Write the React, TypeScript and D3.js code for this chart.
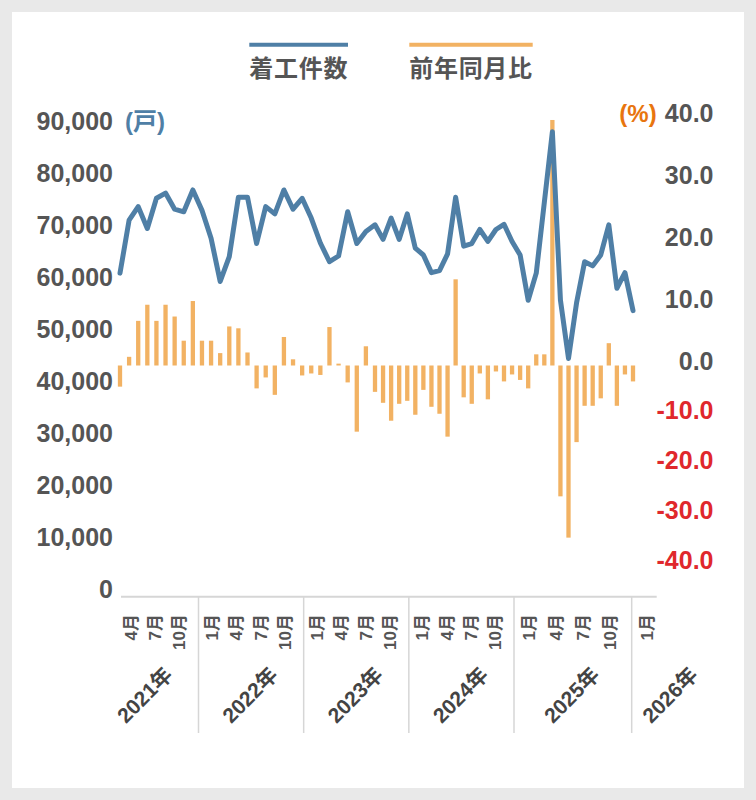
import React from 'react';
import * as d3 from 'd3';

// 着工件数 (戸) — one value per month, Feb 2021 onwards
const housingStarts = [
  61700, 71900, 74500, 70300, 76100, 77100, 74000, 73500, 77700, 73800,
  68400, 60100, 64900, 76300, 76300, 67400, 74500, 73100, 77700, 74000,
  76100, 72300, 67500, 63900, 65000, 73500, 67400, 69700, 71000, 68200,
  72300, 68200, 73100, 66500, 65200, 61800, 62200, 65400, 76300, 66900,
  67400, 70100, 67800, 70100, 71100, 67800, 65200, 56500, 61700, 75300,
  88900, 56500, 45300, 56000, 63900, 63100, 65200, 71000, 58800, 61800,
  54500,
];

// 前年同月比 (%)
const yoyChange = [
  -4.25, 1.4, 7.2, 9.8, 7.2, 9.8, 7.9, 4.0, 10.4, 4.0,
  4.0, 2.0, 6.3, 6.0, 2.1, -4.6, -2.4, -5.9, 4.6, 1.0,
  -2.0, -1.6, -1.9, 6.2, 0.3, -3.4, -13.3, 3.1, -5.3, -7.5,
  -11.1, -7.7, -7.1, -9.9, -4.9, -8.3, -9.7, -14.3, 13.9, -6.4,
  -7.7, -1.6, -6.8, -1.2, -3.2, -1.8, -2.9, -4.6, 1.8, 1.8,
  39.6, -26.3, -34.6, -15.4, -8.1, -8.1, -6.6, 3.6, -8.1, -1.8,
  -3.2,
];

const years = [2021, 2022, 2023, 2024, 2025, 2026];
const quarterMonths = ['1月', '4月', '7月', '10月'];
const monthsByYear: Record<number, string[]> = {
  2021: ['4月', '7月', '10月'],
  2022: quarterMonths,
  2023: quarterMonths,
  2024: quarterMonths,
  2025: quarterMonths,
  2026: ['1月'],
};
const leftTicks = [0, 10000, 20000, 30000, 40000, 50000, 60000, 70000, 80000, 90000];
const rightTicks = [-40, -30, -20, -10, 0, 10, 20, 30, 40];

const W = 756;
const H = 800;
const FONT = '"Liberation Sans", Arial, "Noto Sans CJK JP", sans-serif';
const BLUE = '#4f7fa6';
const ORANGE = '#f2b263';
const GREY_TEXT = '#555555';

export default function App() {
  const x = d3.scaleLinear().domain([0, 28, housingStarts.length - 1]).range([120, 375, 633]);
  const yLeft = d3.scaleLinear().domain([0, 90000]).range([594, 126]);
  const yRight = d3.scaleLinear().domain([-40, 0, 40]).range([564.5, 365.5, 117.5]);

  // category axis: one group per year
  const yearScale = d3.scaleLinear().domain([2021, 2022, 2025, 2026]).range([93, 198.5, 514, 631.7]);
  const monthPos = d3.scalePoint<string>().domain(quarterMonths).range([0.13, 0.82]);
  const axisY = 596.7;

  const line = d3
    .line<number>()
    .x((_, i) => x(i))
    .y(d => yLeft(d));

  const barW = 4.3;
  const fmtLeft = d3.format(',');

  return (
    <svg width={W} height={H} style={{ position: 'absolute', left: 0, top: 0 }} fontFamily={FONT}>
      <rect width={W} height={H} fill="#e9e9e9" />
      <rect x={12} y={12} width={732} height={776} fill="#ffffff" />

      {/* legend */}
      <line x1={249.3} x2={348} y1={44.7} y2={44.7} stroke={BLUE} strokeWidth={4} />
      <text x={298.7} y={77} textAnchor="middle" fontSize={24} fontWeight="bold" fill={GREY_TEXT} letterSpacing={0.7}>
        着工件数
      </text>
      <line x1={409.3} x2={532.7} y1={44.7} y2={44.7} stroke={ORANGE} strokeWidth={4} />
      <text x={471} y={77} textAnchor="middle" fontSize={24} fontWeight="bold" fill={GREY_TEXT} letterSpacing={0.7}>
        前年同月比
      </text>

      {/* left axis */}
      {leftTicks.map(t => (
        <text key={t} x={113} y={yLeft(t) + 4} textAnchor="end" fontSize={25} fontWeight="bold" fill={GREY_TEXT}>
          {fmtLeft(t)}
        </text>
      ))}
      <text x={125} y={yLeft(90000) + 4} fontSize={24} fontWeight="bold" fill={BLUE}>
        (戸)
      </text>

      {/* right axis */}
      {rightTicks.map(t => (
        <text
          key={t}
          x={713.5}
          y={yRight(t) + 4.2}
          textAnchor="end"
          fontSize={25}
          fontWeight="bold"
          fill={t < 0 ? '#e0282c' : GREY_TEXT}
        >
          {t.toFixed(1)}
        </text>
      ))}
      <text x={656.7} y={yRight(40) + 4.2} textAnchor="end" fontSize={24} fontWeight="bold" fill="#e8750f">
        (%)
      </text>

      {/* bars */}
      {yoyChange.map((v, i) => (
        <rect
          key={i}
          x={x(i) - barW / 2}
          y={Math.min(yRight(v), yRight(0))}
          width={barW}
          height={Math.abs(yRight(v) - yRight(0))}
          fill={ORANGE}
        />
      ))}

      {/* line */}
      <path
        d={line(housingStarts) ?? ''}
        fill="none"
        stroke={BLUE}
        strokeWidth={5}
        strokeLinejoin="round"
        strokeLinecap="round"
      />

      {/* category axis */}
      <line x1={121} x2={656.7} y1={axisY} y2={axisY} stroke="#d6d6d6" strokeWidth={2} />
      {years.slice(1).map(yr => (
        <line
          key={yr}
          x1={yearScale(yr)}
          x2={yearScale(yr)}
          y1={axisY}
          y2={733}
          stroke="#d6d6d6"
          strokeWidth={1.5}
        />
      ))}
      {years.map(yr => {
        const start = yearScale(yr);
        const width = yearScale(yr + 1) - start;
        const cx = Math.min(start + width * 0.49, 670);
        return (
          <g key={yr}>
            {monthsByYear[yr].map(m => (
              <text
                key={m}
                transform={`translate(${start + (monthPos(m) ?? 0) * width},614) rotate(-90)`}
                dy="0.35em"
                textAnchor="end"
                fontSize={17}
                fontWeight="bold"
                fill={GREY_TEXT}
              >
                {m}
              </text>
            ))}
            <text
              transform={`translate(${cx},695) rotate(-45)`}
              dy="0.35em"
              textAnchor="middle"
              fontSize={21}
              fontWeight="bold"
              fill="#444444"
            >
              {yr}年
            </text>
          </g>
        );
      })}
    </svg>
  );
}
